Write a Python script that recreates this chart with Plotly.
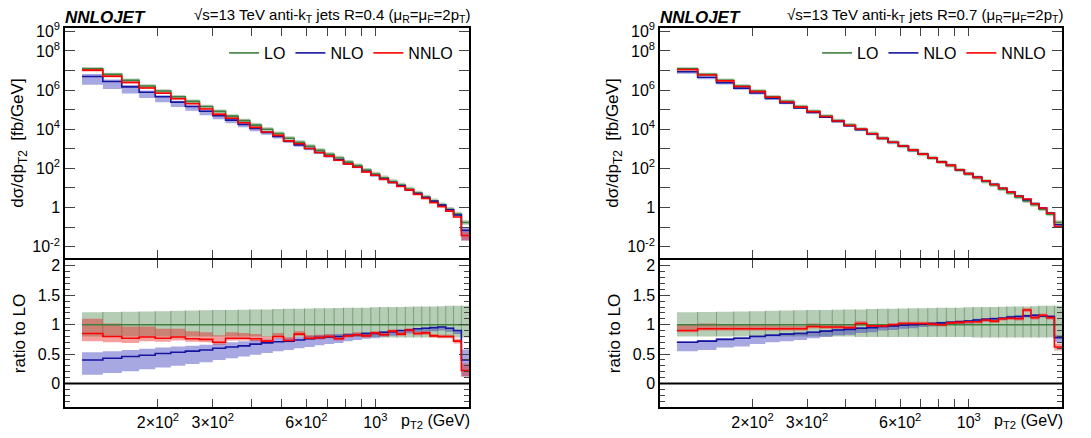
import plotly.graph_objects as go
import numpy as np

edges = [114,133,153,174,196,220,245,272,300,330,362,395,430,468,507,548,592,638,686,737,
         790,846,905,967,1032,1101,1172,1248,1327,1410,1497,1588,1684,1784,1890,2000]
# log10 of LO cross section [fb/GeV]
lo_log = [7.09,6.80,6.50,6.21,5.95,5.66,5.42,5.16,4.91,4.67,4.44,4.21,4.00,3.78,3.54,3.33,3.13,2.92,
          2.72,2.53,2.32,2.14,1.91,1.71,1.52,1.33,1.15,0.94,0.74,0.53,0.34,0.14,-0.09,-0.34,-0.77]
lo_up = [1.21,1.215,1.22,1.225,1.23,1.235,1.24,1.245,1.25,1.25,1.255,1.26,1.26,1.265,1.27,1.27,1.275,1.28,
         1.28,1.285,1.29,1.29,1.29,1.295,1.30,1.30,1.30,1.305,1.31,1.31,1.31,1.315,1.32,1.32,1.32]
lo_dn = [0.80]*12 + [0.79]*12 + [0.78]*11

# R=0.4
nlo4 = [0.40,0.43,0.46,0.48,0.51,0.53,0.55,0.57,0.60,0.62,0.64,0.67,0.69,0.71,0.72,0.74,0.76,0.78,0.79,
        0.80,0.82,0.83,0.85,0.85,0.87,0.88,0.90,0.91,0.93,0.94,0.95,0.96,0.94,0.90,0.40]
nlo4_lo = [0.15,0.18,0.21,0.24,0.27,0.30,0.33,0.36,0.40,0.43,0.46,0.49,0.52,0.55,0.57,0.60,0.62,0.65,0.67,
           0.69,0.72,0.74,0.76,0.77,0.80,0.81,0.84,0.85,0.87,0.88,0.89,0.90,0.88,0.84,0.12]
nlo4_hi = [0.53,0.55,0.57,0.59,0.61,0.63,0.64,0.66,0.68,0.70,0.72,0.74,0.75,0.77,0.78,0.79,0.81,0.82,0.83,
           0.84,0.85,0.86,0.87,0.87,0.89,0.90,0.91,0.92,0.94,0.95,0.96,0.97,0.95,0.91,0.58]
nnlo4 = [0.85,0.80,0.77,0.79,0.77,0.79,0.76,0.75,0.70,0.77,0.77,0.76,0.72,0.80,0.73,0.84,0.77,0.78,0.80,
         0.76,0.81,0.83,0.81,0.86,0.83,0.89,0.84,0.91,0.85,0.86,0.81,0.80,0.80,0.72,0.22]
nnlo4_eup = [0.25,0.22,0.20,0.18,0.16,0.14,0.13,0.12,0.12,0.10,0.09,0.08,0.08,0.06,0.06,0.05,0.05,0.05,0.04,
             0.04,0.04,0.04,0.04,0.03,0.03,0.03,0.03,0.03,0.03,0.03,0.03,0.03,0.03,0.04,0.12]
nnlo4_edn = [0.13,0.10,0.08,0.07,0.06,0.06,0.05,0.05,0.04,0.04,0.04,0.04,0.03,0.04,0.03,0.03,0.03,0.03,0.03,
             0.03,0.03,0.03,0.03,0.03,0.03,0.03,0.03,0.03,0.03,0.03,0.03,0.03,0.03,0.04,0.10]
# R=0.7
nlo7 = [0.70,0.72,0.75,0.77,0.80,0.82,0.84,0.85,0.87,0.89,0.91,0.92,0.94,0.95,0.97,0.98,0.99,1.00,1.01,
        1.02,1.03,1.04,1.05,1.06,1.08,1.09,1.10,1.11,1.13,1.14,1.15,1.16,1.15,1.14,0.78]
nlo7_edn = [0.15,0.15,0.14,0.14,0.13,0.12,0.12,0.11,0.10,0.10,0.09,0.09,0.08,0.08,0.07,0.07,0.06,0.06,0.05,
            0.05,0.05,0.04,0.04,0.04,0.04,0.03,0.03,0.03,0.03,0.03,0.03,0.03,0.03,0.03,0.08]
nlo7_eup = [0.02]*34 + [0.04]
nnlo7 = [0.90,0.93,0.93,0.93,0.93,0.93,0.93,0.93,0.97,0.96,0.96,0.95,1.02,0.98,0.98,1.00,1.02,1.02,1.02,
         1.01,1.00,1.03,1.04,1.05,1.05,1.08,1.06,1.10,1.11,1.10,1.25,1.12,1.16,1.12,0.62]
nnlo7_eup = [0.10,0.09,0.08,0.07,0.06,0.06,0.05,0.05,0.05,0.04,0.04,0.04,0.04,0.03,0.03,0.03,0.03,0.03,0.03,
             0.03,0.03,0.03,0.03,0.03,0.03,0.03,0.03,0.03,0.03,0.03,0.03,0.03,0.03,0.03,0.06]
nnlo7_edn = [0.03]*34 + [0.06]

GL, GB = '#3f7f3f', 'rgba(60,120,60,0.38)'
BL, BB = '#1515a0', 'rgba(60,60,190,0.45)'
RL, RB = '#ff0000', 'rgba(230,40,40,0.45)'

fig = go.Figure()
W, H = 1091, 438
OFF = 8  # page body margin
def px(x): return (x - OFF) / W
def py(y): return 1 - (y - OFF) / H
doms = [[px(65), px(469)], [px(660), px(1062)]]
ytop = [py(258), py(28)]; yrat = [py(407), py(260)]

def step(vals):
    return list(edges), list(vals) + [vals[-1]]

def band(xa, ya, lo, hi, col):
    x, y = step(lo); fig.add_trace(go.Scatter(x=x, y=y, xaxis=xa, yaxis=ya, mode='lines', line=dict(width=0, shape='hv'), showlegend=False, hoverinfo='skip'))
    x, y = step(hi); fig.add_trace(go.Scatter(x=x, y=y, xaxis=xa, yaxis=ya, mode='lines', line=dict(width=0, shape='hv'), fill='tonexty', fillcolor=col, showlegend=False, hoverinfo='skip'))

def line(xa, ya, vals, col, name=None, leg=None):
    x, y = step(vals)
    fig.add_trace(go.Scatter(x=x, y=y, xaxis=xa, yaxis=ya, mode='lines', line=dict(width=1.6, color=col, shape='hv'),
                             name=name, showlegend=name is not None, legend=leg, hoverinfo='skip'))

def vlines(xa, ya, lo, hi, col):
    xs, ys = [], []
    for i in range(1, len(edges)-1):
        xs += [edges[i], edges[i], None]; ys += [min(lo[i-1], lo[i]), max(hi[i-1], hi[i]), None]
    fig.add_trace(go.Scatter(x=xs, y=ys, xaxis=xa, yaxis=ya, mode='lines', line=dict(width=0.7, color=col), showlegend=False, hoverinfo='skip'))

lo = 10**np.array(lo_log)
sets = [(nlo4, nlo4_lo, nlo4_hi, nnlo4, nnlo4_edn, nnlo4_eup),
        (nlo7, [a-b for a, b in zip(nlo7, nlo7_edn)], [a+b for a, b in zip(nlo7, nlo7_eup)],
         nnlo7, nnlo7_edn, nnlo7_eup)]
for p, (nl, nl_lo, nl_hi, nn, nn_dn, nn_up) in enumerate(sets):
    xt, yt = ('x', 'y') if p == 0 else ('x3', 'y3')
    xr, yr = ('x2', 'y2') if p == 0 else ('x4', 'y4')
    leg = 'legend' if p == 0 else 'legend2'
    nn_lo = [a-b for a, b in zip(nn, nn_dn)]; nn_hi = [a+b for a, b in zip(nn, nn_up)]
    band(xt, yt, lo*np.array(lo_dn), lo*np.array(lo_up), GB)
    band(xt, yt, lo*np.array(nl_lo), lo*np.array(nl_hi), BB)
    band(xt, yt, lo*np.array(nn_lo), lo*np.array(nn_hi), RB)
    line(xt, yt, lo, GL, 'LO', leg)
    line(xt, yt, lo*np.array(nl), BL, 'NLO', leg)
    line(xt, yt, lo*np.array(nn), RL, 'NNLO', leg)
    band(xr, yr, lo_dn, lo_up, GB)
    vlines(xr, yr, lo_dn, lo_up, 'rgba(40,100,40,0.6)')
    band(xr, yr, nl_lo, nl_hi, BB)
    band(xr, yr, nn_lo, nn_hi, RB)
    line(xr, yr, [1.0]*len(lo), GL)
    line(xr, yr, nl, BL)
    line(xr, yr, nn, RL)

fnt = dict(family='Liberation Sans, Arial', size=16, color='black')
xrange_log = [np.log10(100.5), np.log10(2000)]
xtv = [200,300,400,500,600,700,800,900,1000,2000]
xtt = ['2×10<sup>2</sup>','3×10<sup>2</sup>','','','6×10<sup>2</sup>','','','','10<sup>3</sup>','']
ytv = [10**k for k in range(-2, 10)]
ytt = ['10<sup>-2</sup>','','1','','10<sup>2</sup>','','10<sup>4</sup>','','10<sup>6</sup>','','10<sup>8</sup>','10<sup>9</sup>']
common = dict(showline=True, linecolor='black', linewidth=1.5, mirror='ticks', ticks='inside', showgrid=False,
              zeroline=False, tickfont=fnt, automargin=False)
layout = dict(width=W, height=H, margin=dict(l=0, r=0, t=0, b=0, autoexpand=False), plot_bgcolor='white', paper_bgcolor='white', font=fnt)
for p in range(2):
    a = 1 + 2*p
    s = str(a) if a > 1 else ''
    layout[f'xaxis{s}'] = dict(type='log', range=xrange_log, domain=doms[p], anchor=f'y{s}', tickvals=xtv, ticktext=['']*len(xtv), ticklen=8, **common)
    layout[f'xaxis{a+1}'] = dict(type='log', range=xrange_log, domain=doms[p], anchor=f'y{a+1}', tickvals=xtv, ticktext=xtt, ticklen=8, matches=f'x{s}', **common)
    layout[f'yaxis{s}'] = dict(type='log', range=[-2.58, 9.17], domain=ytop, anchor=f'x{s}', tickvals=ytv, ticktext=ytt, ticklen=10,
                      title=dict(text='dσ/dp<sub>T2</sub>  [fb/GeV]', standoff=4, font=dict(family='Liberation Sans', size=17, color='black')), **common)
    layout[f'yaxis{a+1}'] = dict(range=[-0.4, 2.1], domain=yrat, anchor=f'x{a+1}', tickvals=[0,0.5,1,1.5,2], ticktext=['0','0.5','1','1.5','2'], ticklen=10,
                      minor=dict(dtick=0.1, ticklen=5, ticks='inside'), title=dict(text='ratio to LO', standoff=8, font=dict(family='Liberation Sans', size=17, color='black')), **common)
fig.update_layout(**layout)
for p in range(2):
    lg = dict(orientation='h', x=doms[p][1]-0.01, xanchor='right', y=py(53), yanchor='middle', bgcolor='rgba(0,0,0,0)',
              font=fnt, traceorder='normal', itemwidth=30)
    fig.update_layout(**{'legend' if p == 0 else 'legend2': lg})
    R = '0.4' if p == 0 else '0.7'
    fig.add_annotation(xref='paper', yref='paper', x=doms[p][0]-0.002, y=py(18), text='<b><i>NNLOJET</i></b>', showarrow=False, xanchor='left', yanchor='middle', font=dict(family='Liberation Sans', size=17, color='black'))
    fig.add_annotation(xref='paper', yref='paper', x=doms[p][1]+0.003, y=py(27), showarrow=False, xanchor='right', yanchor='bottom',
                       text=f'√s=13 TeV anti-k<sub>T</sub> jets R={R} (μ<sub>R</sub>=μ<sub>F</sub>=2p<sub>T</sub>)', font=dict(family='Liberation Sans', size=15, color='black'))
    fig.add_annotation(xref='paper', yref='paper', x=doms[p][1]+0.003, y=py(421), showarrow=False, xanchor='right', yanchor='middle',
                       text='p<sub>T2</sub> (GeV)', font=fnt)
    fig.add_shape(type='line', xref=f'x{2+2*p} domain', yref=f'y{2+2*p}', x0=0, x1=1, y0=0, y1=0, line=dict(color='black', width=2))
fig.write_html('out.html')
